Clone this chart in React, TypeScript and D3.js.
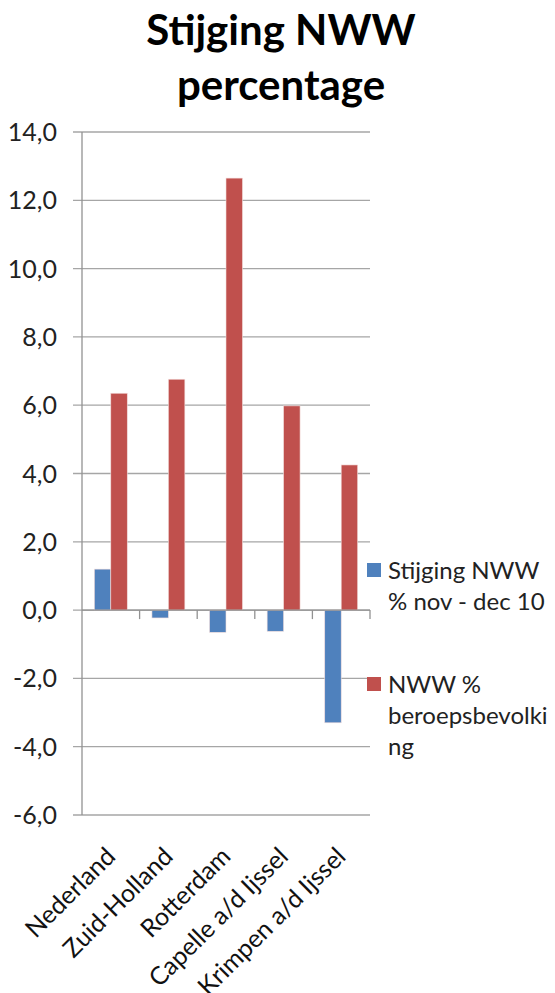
import React from 'react'
import * as d3 from 'd3'

const categories = ['Nederland', 'Zuid-Holland', 'Rotterdam', 'Capelle a/d Ijssel', 'Krimpen a/d Ijssel']
const stijging = [1.2, -0.23, -0.65, -0.62, -3.3]
const nwwPercentage = [6.35, 6.76, 12.65, 5.98, 4.25]
const seriesNames = [['Stijging NWW', '% nov - dec 10'], ['NWW %', 'beroepsbevolki', 'ng']]
const seriesColors = ['#4F81BD', '#C0504D']
const yTicks = [-6, -4, -2, 0, 2, 4, 6, 8, 10, 12, 14]

const W = 555
const H = 993
const FONT = 'Lato, "Open Sans", sans-serif'

export default function App() {
  const left = 82
  const right = 370
  const top = 132
  const bottom = 815

  const x = d3.scaleBand().domain(categories).range([left, right]).paddingInner(0).paddingOuter(0)
  const y = d3.scaleLinear().domain([-6, 14]).range([bottom, top])
  // excel style: gap 150% of bar width
  const barW = x.bandwidth() / 3.5
  const gap = barW * 0.75
  const fmt = (v: number) => v.toFixed(1).replace('.', ',')

  const series = [stijging, nwwPercentage]
  const legendY = [571, 685]

  return (
    <svg width={W} height={H} style={{ position: 'absolute', left: 0, top: 0, background: '#fff' }} fontFamily={FONT}>
      <rect width={W} height={H} fill="#fff" />
      <text x={281} y={45} textAnchor="middle" fontWeight="bold" fontSize={42} fill="#000">Stijging NWW</text>
      <text x={281} y={100} textAnchor="middle" fontWeight="bold" fontSize={42} fill="#000">percentage</text>

      {/* gridlines */}
      {yTicks.map(t => (
        <g key={t}>
          <line x1={left - 9} x2={right} y1={y(t)} y2={y(t)} stroke="#A6A6A6" strokeWidth={1.3} />
          <text x={57} y={y(t)} dy="0.36em" textAnchor="end" fontSize={25} fill="#222">{fmt(t)}</text>
        </g>
      ))}
      <line x1={left} x2={left} y1={top} y2={bottom} stroke="#929292" strokeWidth={1.3} />

      {/* bars */}
      {categories.map((c, i) => (
        <g key={c}>
          {series.map((s, j) => {
            const v = s[i]
            const bx = (x(c) as number) + gap + j * barW
            return (
              <rect key={j} x={bx} y={y(Math.max(0, v))} width={barW}
                height={Math.abs(y(v) - y(0))} fill={seriesColors[j]} stroke="#F2DCDB" strokeWidth={0.6} />
            )
          })}
        </g>
      ))}

      {/* zero axis with category ticks */}
      <line x1={left} x2={right} y1={y(0)} y2={y(0)} stroke="#929292" strokeWidth={1.3} />
      {categories.map(c => (
        <line key={c} x1={(x(c) as number) + x.bandwidth()} x2={(x(c) as number) + x.bandwidth()}
          y1={y(0)} y2={y(0) + 9} stroke="#929292" strokeWidth={1.3} />
      ))}

      {/* category labels */}
      {categories.map(c => {
        const cx = (x(c) as number) + x.bandwidth() / 2 + 6
        const cy = 858
        return (
          <text key={c} x={cx} y={cy} textAnchor="end" fontSize={25} fill="#111"
            transform={`rotate(-45 ${cx} ${cy})`}>{c}</text>
        )
      })}

      {/* legend */}
      {seriesNames.map((lines, j) => (
        <g key={j}>
          <rect x={367} y={legendY[j] - 8} width={14} height={14} fill={seriesColors[j]} />
          {lines.map((l, k) => (
            <text key={k} x={388} y={legendY[j] + 8 + k * 31} fontSize={24} fill="#222">{l}</text>
          ))}
        </g>
      ))}
    </svg>
  )
}
